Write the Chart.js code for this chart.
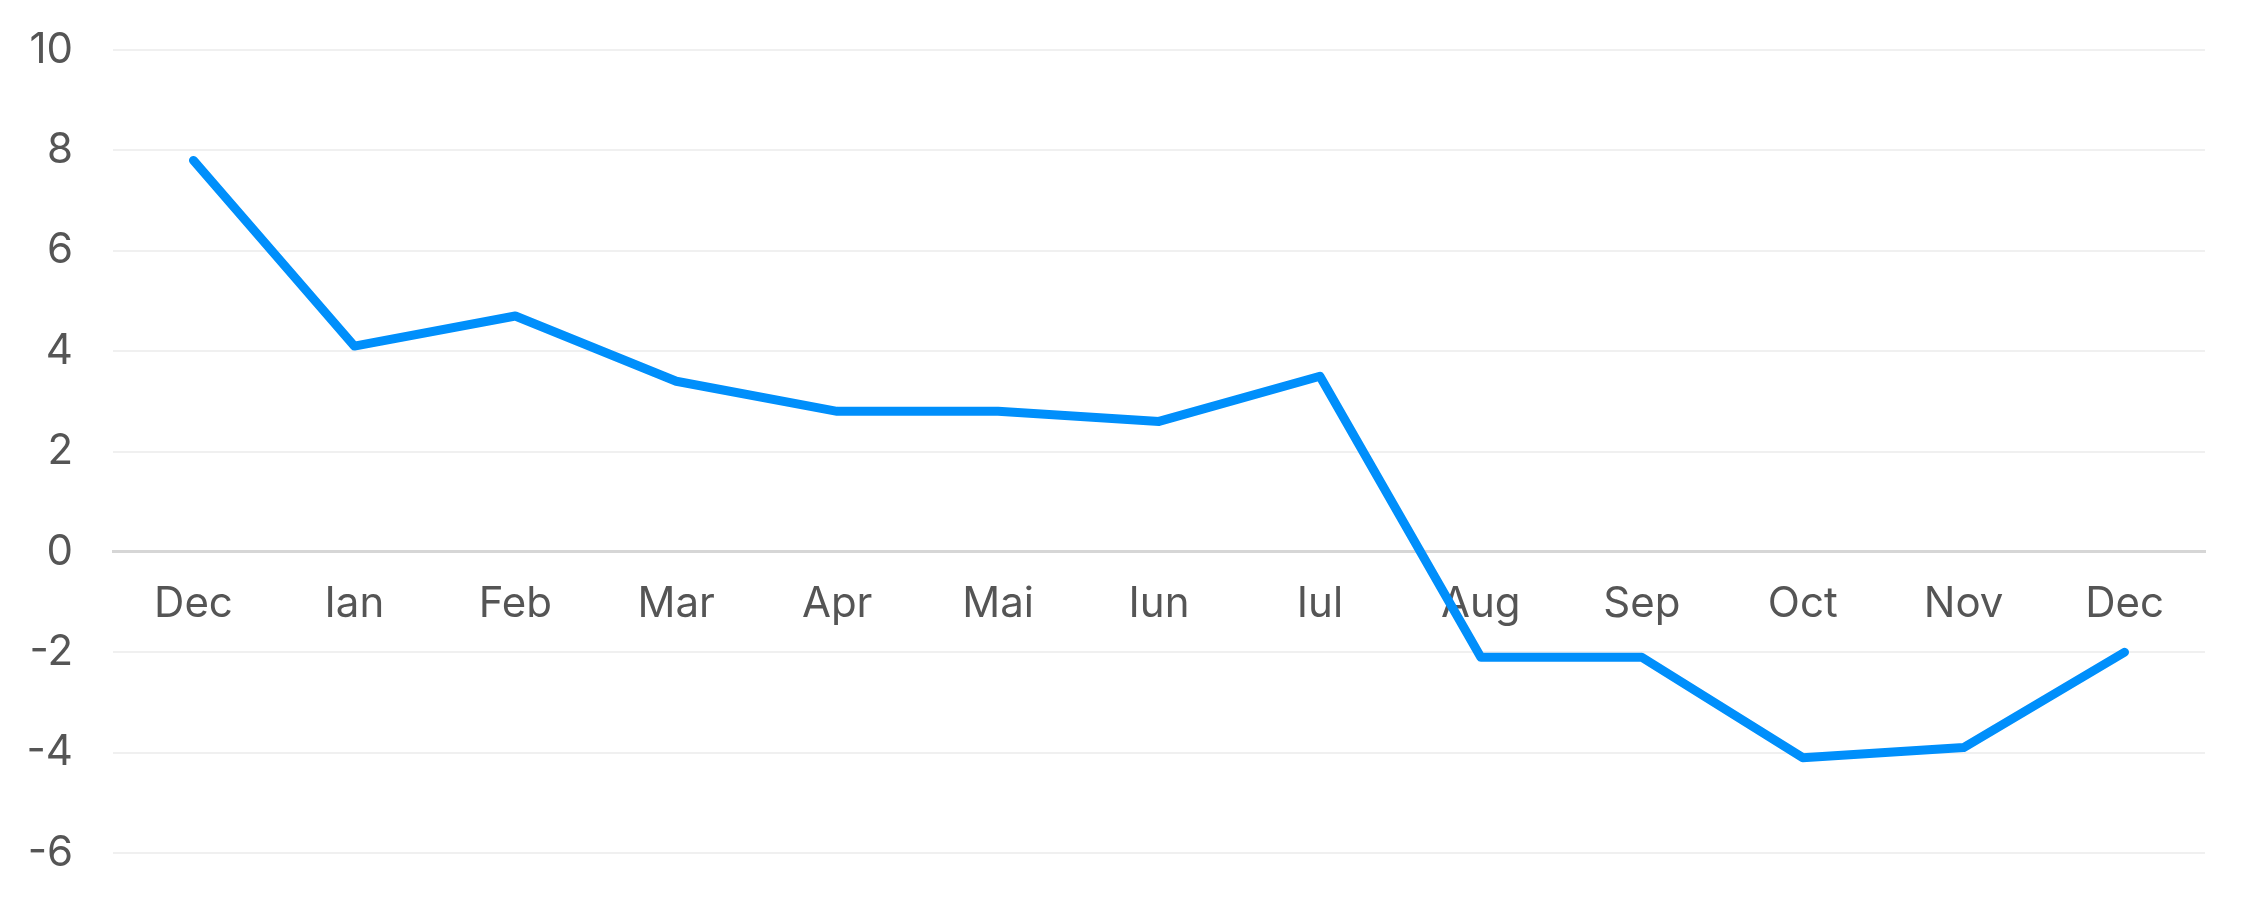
<!DOCTYPE html>
<html>
<head>
<meta charset="utf-8">
<script src="https://cdn.jsdelivr.net/npm/chart.js@4/dist/chart.umd.min.js"></script>
<style>
  html, body { margin: 0; padding: 0; background: #fff; }
  #wrap { width: 2256px; height: 903px; }
</style>
</head>
<body>
<div id="wrap"><canvas id="chart"></canvas></div>
<script>
// months (romanian labels as in the picture)
var months = ['Dec', 'Ian', 'Feb', 'Mar', 'Apr', 'Mai', 'Iun', 'Iul', 'Aug', 'Sep', 'Oct', 'Nov', 'Dec'];
var values = [7.8, 4.1, 4.7, 3.4, 2.8, 2.8, 2.6, 3.5, -2.1, -2.1, -4.1, -3.9, -2.0];
var yMin = -6, yMax = 10, yStep = 2;

Chart.defaults.font.family = 'Inter, "Noto Sans", sans-serif';
Chart.defaults.font.size = 42;
Chart.defaults.color = '#555555';

var ctx = document.getElementById('chart').getContext('2d');
var myChart = new Chart(ctx, {
  type: 'line',
  data: {
    labels: months,
    datasets: [{
      data: values,
      borderColor: 'rgb(0, 143, 251)',
      borderWidth: 9,
      borderCapStyle: 'round',
      borderJoinStyle: 'round',
      pointRadius: 0,
      tension: 0
    }]
  },
  options: {
    animation: false,
    responsive: true,
    maintainAspectRatio: false,
    layout: {
      padding: { top: 50, bottom: 50, left: 0, right: 51 }
    },
    plugins: {
      legend: { display: false },
      tooltip: { enabled: false }
    },
    scales: {
      x: {
        position: { y: 0 },
        offset: true,
        grid: { display: false, drawTicks: false },
        border: { display: true, color: '#d6d6d6', width: 3 },
        ticks: { padding: 27, maxRotation: 0, autoSkip: false }
      },
      y: {
        min: yMin,
        max: yMax,
        grid: { color: '#f0f0f0', lineWidth: 2, drawTicks: false },
        border: { display: false },
        ticks: { stepSize: yStep, padding: 40 },
        afterFit: function (scale) {
          // fixed axis width, no extra label padding above/below
          scale.width = 113;
          scale.paddingTop = 0;
          scale.paddingBottom = 0;
        }
      }
    }
  }
});
</script>
</body>
</html>
